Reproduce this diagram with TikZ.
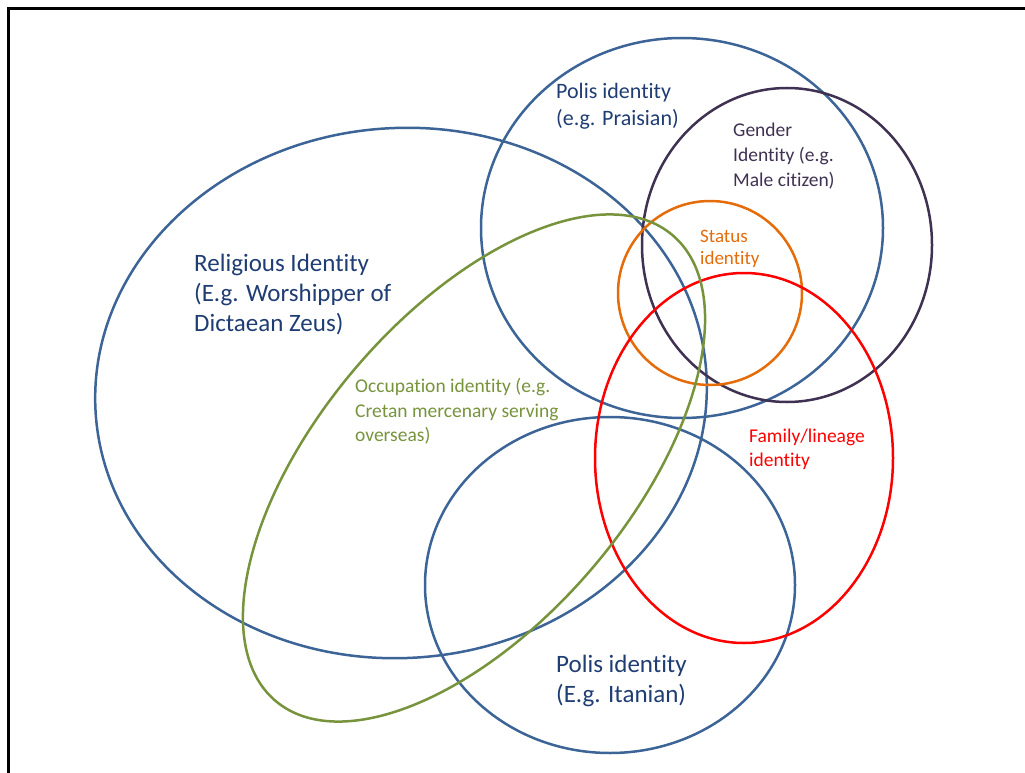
\documentclass[tikz,border=0pt]{standalone}
\usepackage{fontspec}
\setmainfont{Carlito}[Ligatures=NoCommon]
\usepackage{tikz}
\usetikzlibrary{positioning}
\definecolor{ringblue}{HTML}{3C6496}
\definecolor{textnavy}{HTML}{1F3D73}
\definecolor{occgreen}{HTML}{77933C}
\definecolor{genderdark}{HTML}{3F3151}
\definecolor{statusorange}{HTML}{E46C0A}
\definecolor{familyred}{HTML}{FF0000}

\begin{document}
\begin{tikzpicture}[
  x=1pt,y=1pt,
  every node/.style={align=left,anchor=west,inner sep=0pt},
  ring/.style={line width=2.5pt},
  big/.style={font=\fontsize{25}{30}\selectfont,text=textnavy},
  mid/.style={font=\fontsize{22}{27}\selectfont,text=textnavy},
  small/.style={font=\fontsize{19.5}{24.5}\selectfont}
]
  \useasboundingbox (0,0) rectangle (1025,-773);
  \draw[line width=3.5pt] (8.5,-790) |- (1040,-8.5);
  % rings
  \draw[ring,draw=ringblue] (401,-393) ellipse [x radius=306,y radius=265,rotate=4];
  \draw[ring,draw=ringblue] (682,-228) ellipse [x radius=201,y radius=190];
  \draw[ring,draw=ringblue] (610,-585) ellipse [x radius=185,y radius=168];
  \draw[ring,draw=genderdark] (787,-245) ellipse [x radius=145,y radius=157];
  \draw[ring,draw=statusorange] (710,-293) circle [radius=92];
  \draw[ring,draw=familyred] (744,-458) ellipse [x radius=149,y radius=185];
  \draw[ring,draw=occgreen] (474,-468) ellipse [x radius=306,y radius=155,rotate=49.5];
  % labels
  \node[big] (relig) at (194,-295) {Religious Identity\\(E.g. Worshipper of\\Dictaean Zeus)};
  \node[mid] (praisos) at (556,-106.5) {Polis identity\\(e.g. Praisian)};
  \node[small,text=genderdark,font=\fontsize{19.5}{25}\selectfont] (gender) at (733,-156) {Gender\\Identity (e.g.\\Male citizen)};
  \node[small,text=statusorange,font=\fontsize{19}{22}\selectfont] (status) at (700,-248.5) {Status\\identity};
  \node[small,text=occgreen] (occup) at (355,-411.5) {Occupation identity (e.g.\\Cretan mercenary serving\\overseas)};
  \node[small,text=familyred,font=\fontsize{19.5}{24}\selectfont] (family) at (749,-449) {Family/lineage\\identity};
  \node[big] (itanos) at (556,-681) {Polis identity\\(E.g. Itanian)};
\end{tikzpicture}
\end{document}
